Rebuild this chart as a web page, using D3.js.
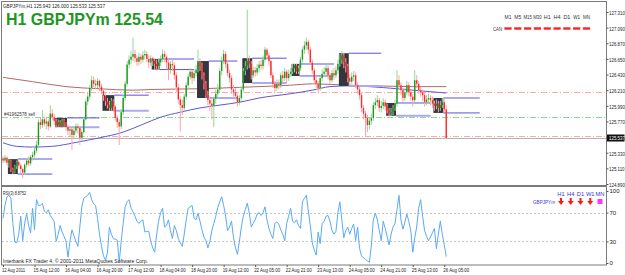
<!DOCTYPE html>
<html>
<head>
<meta charset="utf-8">
<script src="https://cdn.jsdelivr.net/npm/d3@7"></script>
<style>
body { margin: 0; background: #fff; }
svg { display: block; font-family: "Liberation Sans", Arial, sans-serif; }
</style>
</head>
<body>
<svg width="625" height="275"></svg>
<script>

// hourly GBPJPYm bars, 12 Aug 20:00 .. 26 Aug
var firstOpen = 125.25;
var closes = [125.22,125.26,125.19,125.22,125.10,125.06,125.14,125.20,125.15,125.10,125.05,125.16,125.22,125.18,125.27,125.30,125.36,125.44,125.76,125.72,
125.80,125.74,125.77,125.70,125.88,125.83,125.78,125.72,125.76,125.70,125.78,125.74,125.69,125.64,125.66,125.58,125.64,125.70,125.68,125.54,
125.62,125.80,126.05,126.12,126.24,126.35,126.30,126.28,126.34,126.26,126.20,126.13,126.05,126.00,125.96,126.06,125.98,125.82,125.76,125.70,
125.90,126.10,126.30,126.57,126.64,126.68,126.72,126.66,126.61,126.68,126.64,126.70,126.72,126.65,126.60,126.66,126.62,126.58,126.55,126.60,
126.65,126.72,126.68,126.60,126.50,126.58,126.56,126.42,126.25,126.08,126.00,125.96,126.12,126.28,126.40,126.47,126.38,126.45,126.50,126.60,
126.55,126.42,126.30,126.14,126.07,126.02,125.99,126.09,126.16,126.22,126.48,126.62,126.72,126.58,126.45,126.38,126.22,126.18,126.13,126.04,
126.10,126.22,126.48,126.55,126.62,126.58,126.42,126.49,126.46,126.52,126.57,126.55,126.64,126.78,126.70,126.62,126.42,126.30,126.24,126.30,
126.28,126.42,126.38,126.47,126.38,126.44,126.47,126.52,126.56,126.47,126.52,126.64,126.78,126.84,126.89,126.78,126.60,126.49,126.35,126.30,
126.24,126.38,126.44,126.47,126.52,126.42,126.35,126.45,126.42,126.49,126.58,126.64,126.70,126.61,126.55,126.38,126.33,126.40,126.42,126.28,
126.22,126.14,125.96,125.88,125.82,125.72,125.78,125.82,126.00,126.04,126.07,125.96,125.99,126.04,125.98,125.93,125.88,125.90,125.96,126.02,
126.35,126.28,126.21,126.10,126.18,126.28,126.18,126.12,126.07,126.35,126.30,126.21,126.18,126.14,126.04,126.08,126.10,126.07,126.02,125.99,
126.02,125.96,126.00,126.04,125.94,125.537];
var highs = [125.28,125.30,125.28,125.24,125.23,125.12,125.16,125.22,125.24,125.18,125.12,125.18,125.26,125.28,125.30,125.34,125.40,125.50,125.80,125.82,
125.93,125.84,125.82,125.80,126.00,125.94,125.88,125.81,125.80,125.79,125.81,125.81,125.76,125.72,125.70,125.68,125.70,125.74,125.74,125.70,
125.66,125.84,126.08,126.18,126.28,126.41,126.40,126.36,126.38,126.36,126.30,126.22,126.16,126.10,126.06,126.10,126.08,126.00,125.86,125.80,
125.94,126.14,126.34,126.62,126.70,126.76,126.95,126.78,126.70,126.74,126.72,126.76,126.78,126.76,126.70,126.70,126.68,126.66,126.64,126.66,
126.70,126.78,126.76,126.70,126.64,126.62,126.64,126.60,126.46,126.30,126.12,126.08,126.16,126.32,126.44,126.52,126.50,126.50,126.56,126.78,
126.66,126.60,126.46,126.34,126.20,126.12,126.08,126.12,126.22,126.30,126.52,126.68,126.78,126.76,126.62,126.50,126.42,126.28,126.24,126.16,
126.14,126.26,126.52,126.62,127.34,126.70,126.62,126.54,126.54,126.58,126.62,126.64,126.70,126.82,126.80,126.74,126.64,126.46,126.34,126.36,
126.36,126.46,126.48,126.52,126.50,126.50,126.52,126.58,126.58,126.58,126.56,126.68,126.82,126.90,126.95,126.92,126.82,126.64,126.52,126.40,
126.34,126.42,126.50,126.54,126.58,126.56,126.46,126.50,126.52,126.54,126.64,126.72,126.76,126.74,126.66,126.58,126.44,126.46,126.48,126.46,
126.32,126.26,126.18,126.00,125.92,125.86,125.82,125.88,126.04,126.10,126.14,126.10,126.06,126.10,126.08,126.02,125.96,125.96,126.00,126.08,
126.49,126.42,126.32,126.24,126.24,126.34,126.32,126.22,126.16,126.49,126.42,126.34,126.26,126.22,126.18,126.14,126.16,126.14,126.12,126.06,
126.08,126.06,126.06,126.10,126.08,126.00];
var lows = [125.18,125.19,125.15,125.12,125.06,125.03,125.04,125.10,125.10,125.04,124.97,125.02,125.12,125.14,125.15,125.22,125.26,125.33,125.42,125.66,
125.68,125.70,125.66,125.64,125.68,125.78,125.72,125.68,125.69,125.68,125.68,125.69,125.64,125.58,125.56,125.37,125.52,125.60,125.60,125.44,
125.50,125.60,125.78,126.00,126.08,126.20,126.25,126.22,126.24,126.20,126.15,126.06,125.99,125.95,125.92,125.92,125.90,125.78,125.68,125.44,
125.66,125.86,126.06,126.26,126.52,126.58,126.62,126.60,126.55,126.56,126.58,126.60,126.64,126.60,126.52,126.55,126.55,126.50,126.48,126.50,
126.55,126.60,126.60,126.50,126.35,126.44,126.48,126.36,126.18,126.02,125.63,125.86,125.92,126.08,126.24,126.36,126.30,126.34,126.40,126.46,
126.48,126.36,126.22,126.10,126.00,125.92,125.80,125.69,126.02,126.10,126.18,126.42,126.58,126.52,126.40,126.32,126.16,126.12,126.08,125.98,
126.00,126.06,126.18,126.42,126.50,126.52,126.36,126.38,126.40,126.42,126.46,126.50,126.50,126.60,126.64,126.56,126.38,126.24,126.18,126.20,
126.22,126.24,126.32,126.34,126.32,126.34,126.40,126.44,126.46,126.44,126.44,126.48,126.60,126.72,126.78,126.72,126.56,126.44,126.30,126.24,
126.17,126.20,126.34,126.40,126.42,126.36,126.30,126.32,126.36,126.38,126.44,126.54,126.58,126.52,126.46,126.32,126.28,126.30,126.34,126.24,
126.16,126.08,125.90,125.80,125.55,125.62,125.66,125.72,125.78,125.94,125.98,125.90,125.90,125.94,125.92,125.88,125.84,125.84,125.86,125.92,
125.98,126.22,126.14,126.04,126.06,126.14,126.12,126.06,125.98,126.04,126.24,126.16,126.12,126.06,125.98,126.00,126.02,126.00,125.96,125.92,
125.94,125.90,125.92,125.96,125.90,125.533];

var rsiValues = [62,80,92,94,90,55,29,28,40,65,31,55,69,52,42,76,46,88,80,80,
83,72,70,74,66,62,57,30,40,52,43,37,30,8,30,46,38,30,23,50,
78,90,92,94,98,88,82,80,62,40,23,10,4,14,50,40,34,33,32,1,
30,55,78,85,88,76,71,65,58,55,58,60,43,44,44,30,21,15,40,58,
70,76,50,52,60,45,34,52,45,34,28,23,40,60,76,78,80,62,60,69,
58,46,36,31,21,30,45,55,65,77,85,92,80,65,45,50,58,35,21,12,
30,50,65,74,83,70,50,55,60,68,70,66,70,78,60,48,40,34,55,57,
54,46,40,31,55,65,76,58,56,60,52,48,85,90,94,72,52,28,18,11,
43,27,55,58,65,66,58,45,40,44,70,85,60,35,45,50,40,48,54,31,
50,20,10,7,5,3,1,25,60,69,60,45,31,58,48,37,25,40,50,55,
74,94,60,47,57,68,58,45,15,35,50,76,88,65,45,37,31,36,42,48,
20,40,58,40,25,8.88];

// moving averages, read at a few bars
var maSlowBars = [0,15,32,49,66,75,100,120,146,157,175,191,208,225];
var maSlowVals = [126.39,126.33,126.26,126.23,126.21,126.22,126.23,126.25,126.28,126.30,126.28,126.27,126.26,126.26];
var maFastBars = [0,7,15,25,38,49,61,71,80,90,100,110,120,130,146,157,166,175,186,200,212,225];
var maFastVals = [125.47,125.42,125.41,125.42,125.48,125.54,125.62,125.73,125.83,125.90,125.96,126.00,126.04,126.10,126.16,126.21,126.26,126.27,126.26,126.23,126.20,126.17];

// range boxes: first bar, last bar, high, low, end of lines
var boxFrom = [3,27,51,76,99,122,147,171,195,219];
var boxTo   = [7,32,56,79,104,126,150,175,199,223];
var boxHigh = [125.24,125.82,126.14,126.65,126.62,126.66,126.58,126.73,126.03,126.10];
var boxLow  = [125.03,125.69,125.92,126.50,126.10,126.31,126.41,126.27,125.85,125.89];
var boxLineEnd = [25,49,74,97,119,144,168,192,217,242];

var levels = [126.19, 125.83, 125.56];
var levelColors = ["#ffa8a8", "#8fd88f", "#ffa8a8"];
var bidPrice = 125.537;

var priceTicks = [127.31,127.09,126.87,126.65,126.43,126.21,125.99,125.77,125.55,125.33,125.11,124.89];
var rsiTicks = [100,70,30,0];
var timeBars = [0,16,32,48,64,80,96,112,128,144,160,176,192,208,224];
var timeLabels = ["12 Aug 2011","15 Aug 12:00","16 Aug 04:00","16 Aug 20:00","17 Aug 12:00","18 Aug 04:00","18 Aug 20:00",
  "19 Aug 12:00","22 Aug 05:00","22 Aug 21:00","23 Aug 13:00","24 Aug 05:00","24 Aug 21:00","25 Aug 13:00","26 Aug 05:00"];
var tfLabels = ["M1","M5","M15","M30","H1","H4","D1","W1","MN"];
var sigLabels = ["H1","H4","D1","W1","MN"];

var svg = d3.select("svg");
var x = d3.scaleLinear().domain([0, 225]).range([3, 446.25]);
var y = d3.scaleLinear().domain([124.89, 127.31]).range([184, 12]);
var yr = d3.scaleLinear().domain([0, 100]).range([263, 191]);

var bars = closes.map(function(c, i) {
    return {i: i, o: i ? closes[i - 1] : firstOpen, c: c, h: highs[i], l: lows[i]};
});

svg.append("clipPath").attr("id", "mainclip").append("rect")
    .attr("x", 2).attr("y", 2).attr("width", 604).attr("height", 183);

// frames
svg.append("rect").attr("x", 1.5).attr("y", 1.5).attr("width", 605).attr("height", 184)
    .attr("fill", "none").attr("stroke", "#7a7a7a");
svg.append("rect").attr("x", 1.5).attr("y", 186.5).attr("width", 605).attr("height", 78.5)
    .attr("fill", "none").attr("stroke", "#7a7a7a");

var main = svg.append("g").attr("clip-path", "url(#mainclip)");

// horizontal levels
main.selectAll(".lvl").data(levels).enter().append("line")
    .attr("x1", 2).attr("x2", 606)
    .attr("y1", function(d) { return Math.round(y(d)) + 0.5; })
    .attr("y2", function(d) { return Math.round(y(d)) + 0.5; })
    .attr("stroke", function(d, i) { return levelColors[i]; })
    .attr("stroke-dasharray", "6,2,1,2");

main.append("line").attr("x1", 2).attr("x2", 606)
    .attr("y1", y(bidPrice) + 0.5).attr("y2", y(bidPrice) + 0.5)
    .attr("stroke", "#b4b4b4");

// moving averages
var slowLine = d3.line().curve(d3.curveMonotoneX)
    .x(function(d, i) { return x(maSlowBars[i]); }).y(function(d) { return y(d); });
main.append("path").attr("d", slowLine(maSlowVals))
    .attr("fill", "none").attr("stroke", "#b06a6a").attr("stroke-width", 1);
var fastLine = d3.line().curve(d3.curveMonotoneX)
    .x(function(d, i) { return x(maFastBars[i]); }).y(function(d) { return y(d); });
main.append("path").attr("d", fastLine(maFastVals))
    .attr("fill", "none").attr("stroke", "#5a5ad8").attr("stroke-width", 1);

// range boxes and their lines
boxFrom.forEach(function(b, k) {
    main.append("rect")
        .attr("x", x(b) - 1).attr("y", y(boxHigh[k]))
        .attr("width", x(boxTo[k]) - x(b) + 2)
        .attr("height", y(boxLow[k]) - y(boxHigh[k]))
        .attr("fill", "#35353f");
    main.append("line")
        .attr("x1", x(boxTo[k]) + 1).attr("x2", x(boxLineEnd[k]))
        .attr("y1", y(boxHigh[k])).attr("y2", y(boxHigh[k]))
        .attr("stroke", k % 3 == 0 ? "#aaaaf0" : "#5555d8").attr("stroke-width", k % 3 == 0 ? 2 : 1);
    main.append("line")
        .attr("x1", x(boxTo[k]) + 1).attr("x2", x(boxLineEnd[k]))
        .attr("y1", y(boxLow[k])).attr("y2", y(boxLow[k]))
        .attr("stroke", k % 3 == 0 ? "#5555d8" : "#aaaaf0").attr("stroke-width", k % 3 == 0 ? 1 : 2);
});

// candles
var candle = main.selectAll(".c").data(bars).enter().append("g");
candle.append("line")
    .attr("x1", function(d) { return x(d.i); }).attr("x2", function(d) { return x(d.i); })
    .attr("y1", function(d) { return y(d.h); }).attr("y2", function(d) { return y(d.l); })
    .attr("stroke", function(d) { return d.c >= d.o ? "#9ad49a" : "#ffa4a4"; })
    .attr("stroke-width", 1);
candle.append("rect")
    .attr("x", function(d) { return x(d.i) - 0.7; })
    .attr("width", 1.4)
    .attr("y", function(d) { return y(Math.max(d.o, d.c)); })
    .attr("height", function(d) { return Math.max(1, Math.abs(y(d.o) - y(d.c))); })
    .attr("fill", function(d) { return d.c >= d.o ? "#1c9a1c" : "#ff2b2b"; });

// price axis
var pAxis = svg.append("g").attr("transform", "translate(606.5,0)")
    .call(d3.axisRight(y).tickValues(priceTicks).tickFormat(d3.format(".3f")).tickSize(2).tickPadding(0.5));
pAxis.select(".domain").remove();
pAxis.selectAll("line").attr("stroke", "#555");
pAxis.selectAll("text").attr("font-size", 4.4).attr("fill", "#222").attr("font-family", "Liberation Sans")
    .attr("dy", "0.4em").attr("transform", "scale(1,1.35)");

svg.append("rect").attr("x", 607).attr("y", y(bidPrice) - 3.5).attr("width", 17.5).attr("height", 7).attr("fill", "#111");
svg.append("text").attr("font-size", 4.4).attr("fill", "#fff")
    .attr("transform", "translate(609," + (y(bidPrice) + 2.2) + ") scale(1,1.35)")
    .text(d3.format(".3f")(bidPrice));

// RSI panel
var rsi = svg.append("g");
[70, 30].forEach(function(v) {
    rsi.append("line").attr("x1", 2).attr("x2", 606)
        .attr("y1", Math.round(yr(v)) + 0.5).attr("y2", Math.round(yr(v)) + 0.5)
        .attr("stroke", "#c8c8c8").attr("stroke-dasharray", "2,2");
});
var rsiLine = d3.line().x(function(d, i) { return x(i); }).y(function(d) { return yr(d); });
rsi.append("path").attr("d", rsiLine(rsiValues))
    .attr("fill", "none").attr("stroke", "#5aaaf5").attr("stroke-width", 1);

var rAxis = svg.append("g").attr("transform", "translate(606.5,0)")
    .call(d3.axisRight(yr).tickValues(rsiTicks).tickSize(2).tickPadding(1));
rAxis.select(".domain").remove();
rAxis.selectAll("line").attr("stroke", "#555");
rAxis.selectAll("text").attr("font-size", 6).attr("fill", "#222").attr("font-family", "Liberation Sans");

// time axis
var tAxis = svg.append("g").attr("transform", "translate(0,265)")
    .call(d3.axisBottom(x).tickValues(timeBars).tickSize(2).tickPadding(1)
        .tickFormat(function(d, i) { return timeLabels[i]; }));
tAxis.select(".domain").remove();
tAxis.selectAll("line").attr("stroke", "#555");
tAxis.selectAll("text").attr("font-size", 5.6).attr("fill", "#222").attr("font-family", "Liberation Sans")
    .attr("text-anchor", "start").attr("dx", -1.5)
    .attr("textLength", function(d, i) { return i ? 26 : 23; }).attr("lengthAdjust", "spacingAndGlyphs");

// texts
function small(tx, ty, s, len, col) {
    var t = svg.append("text").attr("x", tx).attr("y", ty).attr("font-size", 6).attr("fill", col || "#222").text(s);
    if (len) t.attr("textLength", len).attr("lengthAdjust", "spacingAndGlyphs");
    return t;
}
small(3, 7.5, "GBPJPYm,H1  125.943 126.000 125.533 125.537", 102);
svg.append("text").attr("x", 6).attr("y", 25).attr("font-size", 17).attr("font-weight", "bold")
    .attr("fill", "#1f961f").attr("textLength", 157).attr("lengthAdjust", "spacingAndGlyphs")
    .text("H1 GBPJPYm 125.54");
small(4, 116, "#41962578 sell", 31, "#333");
small(3, 195, "RSI(3) 8.8752", 23);
small(3, 262.5, "Interbank FX Trader 4, \u00a9 2001-2011 MetaQuotes Software Corp.", 145);

// timeframe strip
var tfX = d3.scalePoint().domain(tfLabels).range([508, 586.5]);
tfLabels.forEach(function(l) {
    svg.append("text").attr("x", tfX(l)).attr("y", 19).attr("font-size", 5.6).attr("fill", "#333")
        .attr("text-anchor", "middle").attr("textLength", l.length > 2 ? 8.5 : 7).attr("lengthAdjust", "spacingAndGlyphs")
        .text(l);
    svg.append("line").attr("x1", tfX(l) - 3.6).attr("x2", tfX(l) + 3.6).attr("y1", 28.5).attr("y2", 28.5)
        .attr("stroke", "#ff2020").attr("stroke-width", 2.4);
});
small(493, 30.5, "CAN", 9, "#333");

// signal block in RSI panel
var sgX = d3.scalePoint().domain(sigLabels).range([561, 600]);
small(533, 204, "GBPJPYm", 22, "#3a3ad0");
sigLabels.forEach(function(l, i) {
    svg.append("text").attr("x", sgX(l)).attr("y", 195.5).attr("font-size", 5.8).attr("fill", "#3a3ad0")
        .attr("text-anchor", "middle").text(l);
    var cx = sgX(l), cy = 202;
    if (i < 4) {
        svg.append("path")
            .attr("d", "M" + (cx - 1) + "," + (cy - 4) + "h2v3h2l-3,4l-3,-4h2z")
            .attr("fill", "#ff1a1a");
    } else {
        svg.append("rect").attr("x", cx - 2.5).attr("y", cy - 3).attr("width", 5).attr("height", 5).attr("fill", "#ff33ff");
    }
});
</script>
</body>
</html>
